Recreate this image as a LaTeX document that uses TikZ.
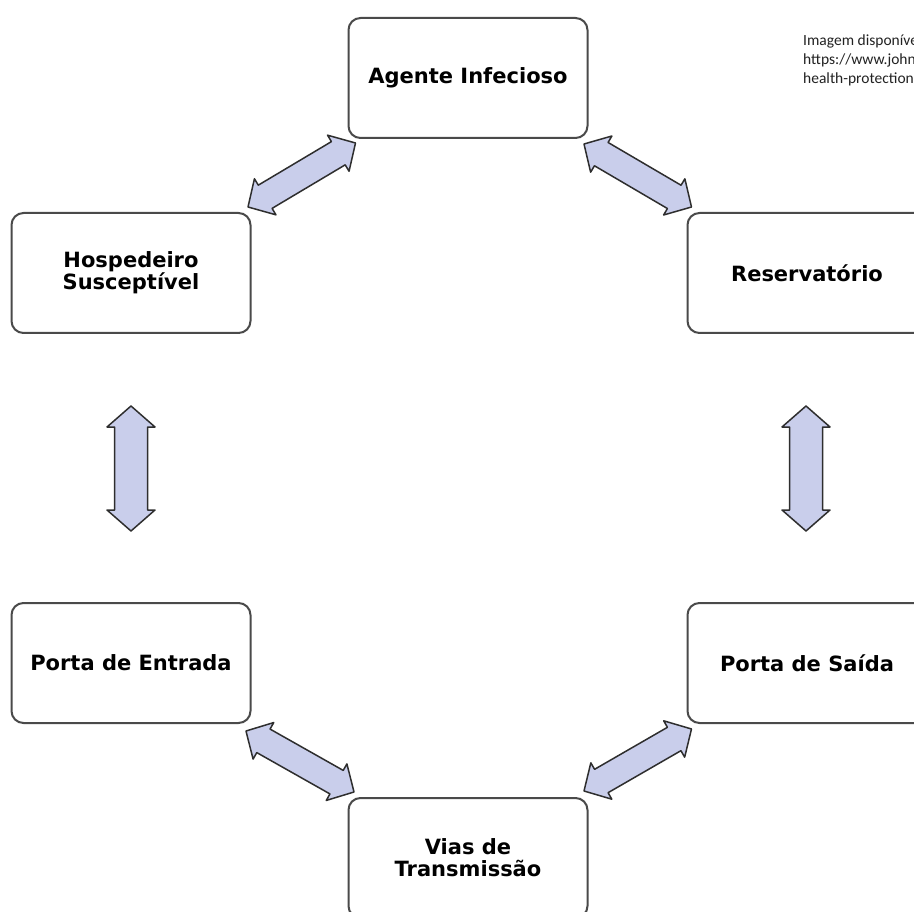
\documentclass[tikz,border=0pt]{standalone}
\usepackage{fontspec}
\setmainfont{DejaVu Sans}
\newfontfamily\notefont{Carlito}
\usetikzlibrary{calc}

\definecolor{boxline}{HTML}{4A4A4A}
\definecolor{arrowfill}{HTML}{C9CEEB}
\definecolor{arrowline}{HTML}{2E2E2E}
\definecolor{notecolor}{HTML}{222222}

\tikzset{
  stage/.style={draw=boxline, line width=2pt, rounded corners=12pt, fill=white,
    minimum width=239pt, minimum height=120pt, inner sep=0pt, align=center,
    font=\fontsize{21}{22}\selectfont\bfseries},
  blockarrow/.style={draw=arrowline, fill=arrowfill, line width=1.5pt, line join=round},
  notetext/.style={inner sep=0pt, align=left, text=notecolor,
    font=\notefont\fontsize{15.5}{19}\selectfont}
}

% double-headed block arrow from #1 to #2
% #3 head length, #4 head half-width, #5 shaft half-width
\newcommand\dblarrow[5]{%
  \coordinate (#1-p) at ($(#1)!#3!(#2)$);
  \coordinate (#1-q) at ($(#2)!#3!(#1)$);
  \draw[blockarrow] (#1)
    -- ($(#1-p)!#4!90:(#2)$) -- ($(#1-p)!#5!90:(#2)$)
    -- ($(#1-q)!#5!-90:(#1)$) -- ($(#1-q)!#4!-90:(#1)$)
    -- (#2)
    -- ($(#1-q)!#4!90:(#1)$) -- ($(#1-q)!#5!90:(#1)$)
    -- ($(#1-p)!#5!-90:(#2)$) -- ($(#1-p)!#4!-90:(#2)$)
    -- cycle;
}

\begin{document}
\begin{tikzpicture}[x=1pt, y=-1pt]
  \clip (0,0) rectangle (914,912);
  \fill[white] (0,0) rectangle (914,912);

  % the six stages of the chain
  \node[stage] (agent) at (468,78)  {Agente Infecioso};
  \node[stage] (host)  at (131,273) {Hospedeiro\\Susceptível};
  \node[stage] (res)   at (807,273) {Reservatório};
  \node[stage] (entry) at (131,663) {Porta de Entrada};
  \node[stage] (exit)  at (807,663) {Porta de Saída};
  \node[stage] (vias)  at (468,858) {Vias de\\Transmissão};

  % arrow end points beside the boxes
  \coordinate (tlA) at ($(host.north east)+(-3.5,-5)$);
  \coordinate (tlB) at ($(agent.south west)+(8,4)$);
  \coordinate (trA) at ($(agent.south east)+(-4.5,5)$);
  \coordinate (trB) at ($(res.north west)+(5,-5)$);
  \coordinate (lA)  at ($(host.south)+(0,72)$);
  \coordinate (lB)  at ($(entry.north)+(0,-71)$);
  \coordinate (rA)  at ($(res.south)+(-1,72)$);
  \coordinate (rB)  at ($(exit.north)+(-1,-71)$);
  \coordinate (blA) at ($(entry.south east)+(-5.5,7)$);
  \coordinate (blB) at ($(vias.north west)+(6.5,-5)$);
  \coordinate (brA) at ($(vias.north east)+(-4.5,-6)$);
  \coordinate (brB) at ($(exit.south west)+(5,5)$);

  \dblarrow{tlA}{tlB}{20pt}{21pt}{13.5pt}
  \dblarrow{trA}{trB}{20pt}{21pt}{13.5pt}
  \dblarrow{lA}{lB}{21pt}{24pt}{16.5pt}
  \dblarrow{rA}{rB}{21pt}{24pt}{16.5pt}
  \dblarrow{blA}{blB}{20pt}{21pt}{13.5pt}
  \dblarrow{brA}{brB}{20pt}{21pt}{13.5pt}

  % source note
  \node[notetext, anchor=north west] (note) at (803,35)
    {Imagem disponível\\https://www.john\\health-protection};
\end{tikzpicture}
\end{document}
